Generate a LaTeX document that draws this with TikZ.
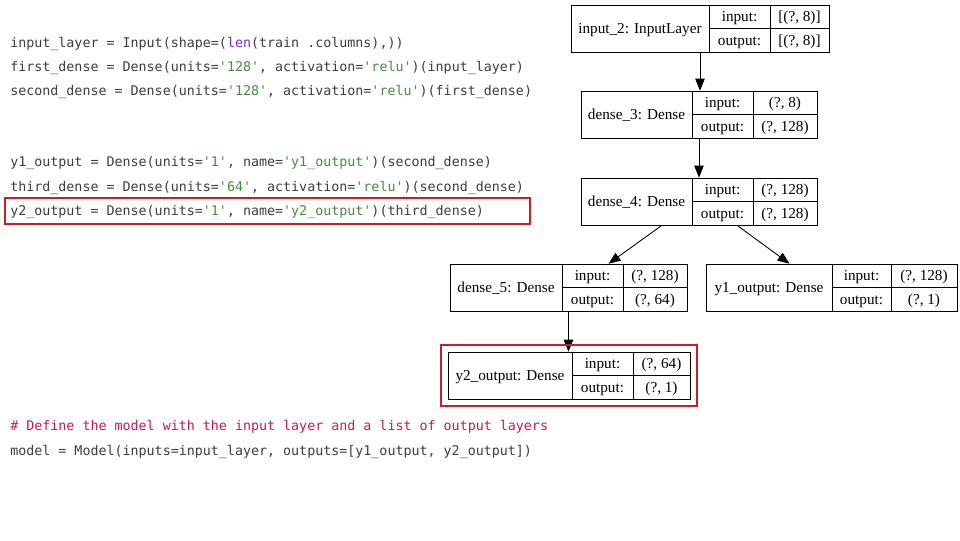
\documentclass[tikz,border=0pt]{standalone}
\usepackage{fontspec}
\setmonofont{DejaVu Sans Mono}
\newfontfamily\graphfont{Liberation Serif}
\usepackage{xcolor}
\usetikzlibrary{arrows.meta, positioning, calc, fit}

\definecolor{codegray}{RGB}{62,62,62}
\definecolor{strgreen}{RGB}{70,140,70}
\definecolor{kwpurple}{RGB}{140,40,175}
\definecolor{cmtpink}{RGB}{196,26,94}
\definecolor{hlred}{RGB}{200,30,42}

\newcommand{\str}[1]{\textcolor{strgreen}{#1}}

% one keras layer: id, x, y (north west), widths of the three columns, name, input, output
\newcommand{\kerasnode}[9]{%
  \node[namecell, minimum width=#4*0.75pt, anchor=north west] (#1name) at (#2,#3) {#7};
  \node[keycell, minimum width=#5*0.75pt, anchor=north west] (#1ki) at (#1name.north east) {input:};
  \node[keycell, minimum width=#5*0.75pt, anchor=north west] (#1ko) at (#1ki.south west) {output:};
  \node[keycell, minimum width=#6*0.75pt, anchor=north west] (#1vi) at (#1ki.north east) {#8};
  \node[keycell, minimum width=#6*0.75pt, anchor=north west] (#1vo) at (#1vi.south west) {#9};
  \node[fit=(#1name)(#1vo), inner sep=0pt] (#1) {};
}

\begin{document}
\begin{tikzpicture}[
  x=0.75pt, y=-0.75pt,
  % code lines
  codeline/.style={anchor=base west, inner sep=0pt, font=\ttfamily\fontsize{10}{12}\selectfont, text=codegray},
  % graph cells
  namecell/.style={draw, line width=0.6pt, rectangle, minimum height=47*0.75pt,
    inner sep=0pt, outer sep=0pt, text height=9.2pt, text depth=2pt,
    font=\graphfont\fontsize{11.4}{13}\selectfont},
  keycell/.style={draw, line width=0.6pt, rectangle, minimum height=23.5*0.75pt,
    inner sep=0pt, outer sep=0pt, text height=9.2pt, text depth=2pt,
    font=\graphfont\fontsize{11.4}{13}\selectfont},
  % arrows
  edge/.style={line width=0.65pt, -{Triangle[length=9pt, width=7pt]}},
  % red highlight
  hlbox/.style={draw=hlred, line width=1.5pt, inner sep=0pt}
]
\useasboundingbox[fill=white] (0,0) rectangle (960,540);

% === CODE ===
\node[codeline] (l1) at (10,47.5) {input\_layer = Input(shape=(\textcolor{kwpurple}{len}(train .columns),))};
\node[codeline] (l2) at (10,71.5) {first\_dense = Dense(units=\str{'128'}, activation=\str{'relu'})(input\_layer)};
\node[codeline] (l3) at (10,95.5) {second\_dense = Dense(units=\str{'128'}, activation=\str{'relu'})(first\_dense)};
\node[codeline] (l4) at (10,166.5) {y1\_output = Dense(units=\str{'1'}, name=\str{'y1\_output'})(second\_dense)};
\node[codeline] (l5) at (10,191) {third\_dense = Dense(units=\str{'64'}, activation=\str{'relu'})(second\_dense)};
\node[codeline] (l6) at (10,215) {y2\_output = Dense(units=\str{'1'}, name=\str{'y2\_output'})(third\_dense)};
\node[codeline, text=cmtpink] (l7) at (10,430.5) {\# Define the model with the input layer and a list of output layers};
\node[codeline] (l8) at (10,455) {model = Model(inputs=input\_layer, outputs=[y1\_output, y2\_output])};

\node[hlbox, minimum width=525*0.75pt, minimum height=26*0.75pt, anchor=north west] (codehl) at (4,197) {};

% === MODEL GRAPH ===
\kerasnode{inp}{571}{5}{138}{61}{59}{input\_2: InputLayer}{[(?, 8)]}{[(?, 8)]}
\kerasnode{dthree}{581}{91}{111}{61}{64}{dense\_3: Dense}{(?, 8)}{(?, 128)}
\kerasnode{dfour}{581}{178}{111}{61}{64}{dense\_4: Dense}{(?, 128)}{(?, 128)}
\kerasnode{dfive}{450}{264}{112}{61}{64}{dense\_5: Dense}{(?, 128)}{(?, 64)}
\kerasnode{yone}{706}{264}{126}{59}{66}{y1\_output: Dense}{(?, 128)}{(?, 1)}
\kerasnode{ytwo}{448}{352}{124}{61}{57}{y2\_output: Dense}{(?, 64)}{(?, 1)}

% === EDGES ===
\draw[edge] (inp.south) -- (inp.south |- dthree.north);
\draw[edge] (dthree.south) -- (dthree.south |- dfour.north);
\draw[edge] ($(dfour.south)+(-37,0)$) -- ($(dfive.north)+(40,0)$);
\draw[edge] ($(dfour.south)+(38,0)$) -- ($(yone.north)+(-42,0)$);
\draw[edge] (dfive.south) -- (dfive.south |- ytwo.north);

\node[hlbox, fit=(ytwo), inner sep=5.2pt] (ytwohl) {};

\end{tikzpicture}
\end{document}
